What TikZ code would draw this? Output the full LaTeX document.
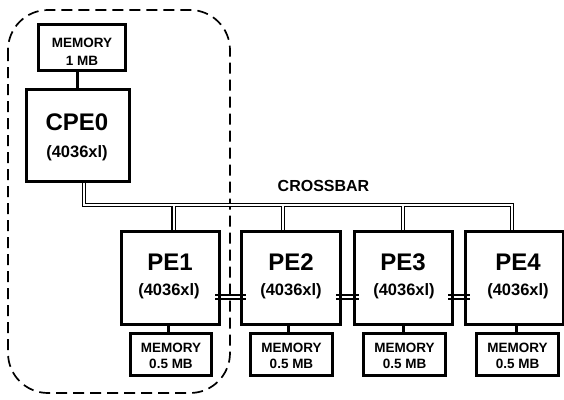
\documentclass[tikz,border=0pt]{standalone}
\usepackage{fontspec}
\setmainfont{Liberation Sans}
\usetikzlibrary{calc}
\begin{document}
\begin{tikzpicture}[x=1pt,y=-1pt,
  pebox/.style={draw,line width=3.2pt,minimum width=98.4pt,minimum height=93.4pt,inner sep=0pt},
  cpebox/.style={draw,line width=3.2pt,minimum width=103.4pt,minimum height=92.4pt,inner sep=0pt},
  membox/.style={draw,line width=3pt,minimum width=81.4pt,minimum height=42.4pt,inner sep=0pt},
  bigmem/.style={draw,line width=3pt,minimum width=87.4pt,minimum height=46.4pt,inner sep=0pt},
  ttl/.style={inner sep=0pt,anchor=base,font=\bfseries\fontsize{24}{24}\selectfont},
  sub/.style={inner sep=0pt,anchor=base,font=\bfseries\fontsize{16.5}{18}\selectfont},
  memtxt/.style={inner sep=0pt,anchor=base,font=\bfseries\fontsize{13.5}{16}\selectfont},
  xbtxt/.style={inner sep=0pt,anchor=base,font=\bfseries\fontsize{16}{18}\selectfont},
  bus/.style={double,double distance=2pt,line width=1.2pt},
  memlink/.style={line width=3pt},
  peerlink/.style={line width=1.6pt},
  grp/.style={dashed,dash pattern=on 11pt off 6pt,line width=1.7pt,rounded corners=40pt}
]
\useasboundingbox (0,0) rectangle (564,399);

% group outline
\draw[grp] (8,10) rectangle (230,393);

% boxes
\node[bigmem] (mem0) at (82,47.5) {};
\node[cpebox] (cpe0) at (78,135.5) {};
\node[pebox] (pe1) at (170.5,278) {};
\node[pebox] (pe2) at (291,278) {};
\node[pebox] (pe3) at (403.5,278) {};
\node[pebox] (pe4) at (514.5,278) {};
\node[membox] (m1) at (171,354.5) {};
\node[membox] (m2) at (291.5,354.5) {};
\node[membox] (m3) at (404.5,354.5) {};
\node[membox] (m4) at (517.5,354.5) {};

% texts
\node[memtxt] (mem0a) at (82,47) {MEMORY};
\node[memtxt] (mem0b) at (82,65) {1 MB};
\node[ttl] (cpe0t) at (77,130.5) {CPE0};
\node[sub] (cpe0s) at (77,157) {(4036xl)};
\node[ttl] (pe1t) at (170,270) {PE1};
\node[sub] (pe1s) at (169,295) {(4036xl)};
\node[ttl] (pe2t) at (291,270) {PE2};
\node[sub] (pe2s) at (291,295) {(4036xl)};
\node[ttl] (pe3t) at (403,270) {PE3};
\node[sub] (pe3s) at (404,295) {(4036xl)};
\node[ttl] (pe4t) at (518,270) {PE4};
\node[sub] (pe4s) at (518,295) {(4036xl)};
\foreach \m/\x in {m1/171,m2/291.5,m3/404.5,m4/517.5}{
  \node[memtxt] (\m a) at (\x,352) {MEMORY};
  \node[memtxt] (\m b) at (\x,368.5) {0.5 MB};
}
\node[xbtxt] (xbt) at (323.5,191) {CROSSBAR};

% memory links
\draw[memlink] (cpe0.north) ++(-1,0) coordinate (c0n) -- (c0n |- mem0.south);
\draw[memlink] (pe1.south) ++(-2.5,0) coordinate (p1s) -- (p1s |- m1.north);
\draw[memlink] (pe2.south) ++(-3,0) coordinate (p2s) -- (p2s |- m2.north);
\draw[memlink] (pe3.south) coordinate (p3s) -- (p3s |- m3.north);
\draw[memlink] (pe4.south) ++(1.5,0) coordinate (p4s) -- (p4s |- m4.north);

% crossbar
\coordinate (xb0) at (84,205);
\coordinate (xb1) at (173.5,205);
\coordinate (xb2) at (283,205);
\coordinate (xb3) at (403,205);
\coordinate (xb4) at (512,205);
\draw[bus] (cpe0.south -| xb0) -- (xb0) -- (xb4) -- (pe4.north -| xb4)
  (xb1) -- (pe1.north -| xb1)
  (xb2) -- (pe2.north -| xb2)
  (xb3) -- (pe3.north -| xb3);

% neighbour links
\foreach \a/\b in {pe1/pe2,pe2/pe3,pe3/pe4}{
  \draw[peerlink] ($(\a.east)+(-6,17)$) -- ($(\b.west)+(6,17)$)
                  ($(\a.east)+(-6,21)$) -- ($(\b.west)+(6,21)$);
}
\end{tikzpicture}
\end{document}
